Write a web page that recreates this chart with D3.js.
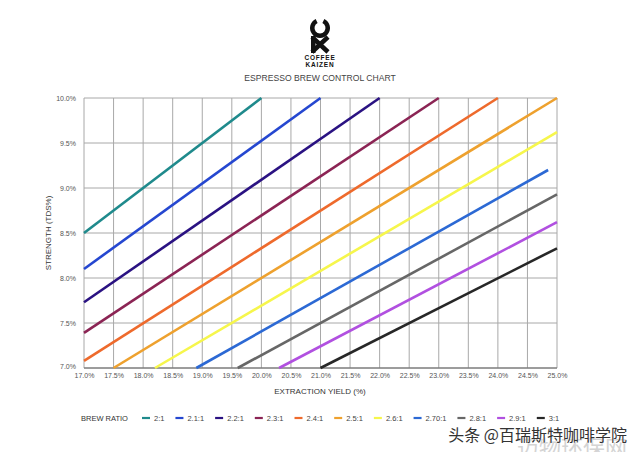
<!DOCTYPE html>
<html><head><meta charset="utf-8">
<script src="https://cdn.jsdelivr.net/npm/d3@7"></script>
<style>
html,body{margin:0;padding:0;background:#fff;}
svg{display:block;font-family:"Liberation Sans",Arial,sans-serif;}
</style></head>
<body><svg id="c" width="640" height="452"></svg>
<script>
// Data
const ratioLabels = ["2:1","2.1:1","2.2:1","2.3:1","2.4:1","2.5:1","2.6:1","2.70:1","2.8:1","2.9:1","3:1"];
const ratioColors = ["#1f8a8c","#2547d0","#2a1282","#8b2454","#ee6a2c","#eea12e","#f6f64c","#2c69d4","#676767","#b150e0","#272727"];
const startEY  = [17.0,17.0,17.0,17.0,17.0,17.5,18.2,18.9,19.6,20.3,21.0];
const startTDS = [8.50,8.10,7.73,7.39,7.08,7.00,7.00,7.00,7.00,7.00,7.00];
const endEY    = [20.0,21.0,22.0,23.0,24.0,25.0,25.0,24.85,25.0,25.0,25.0];
const endTDS   = [10.0,10.0,10.0,10.0,10.0,10.0,9.62,9.20,8.93,8.62,8.33];
const xTicks = [17.0,17.5,18.0,18.5,19.0,19.5,20.0,20.5,21.0,21.5,22.0,22.5,23.0,23.5,24.0,24.5,25.0];
const yTicks = [7.0,7.5,8.0,8.5,9.0,9.5,10.0];

const svg = d3.select("#c");
const x = d3.scaleLinear().domain([17,25]).range([84,557]);
const y = d3.scaleLinear().domain([7,10]).range([368,98]);

// grid
const g = svg.append("g");
g.selectAll("line.vx").data(xTicks).join("line")
  .attr("x1",d=>x(d)).attr("x2",d=>x(d)).attr("y1",y(7)).attr("y2",y(10))
  .attr("stroke","#a8a8a8").attr("stroke-width",1);
g.selectAll("line.hy").data(yTicks).join("line")
  .attr("x1",x(17)).attr("x2",x(25)).attr("y1",d=>y(d)).attr("y2",d=>y(d))
  .attr("stroke","#a8a8a8").attr("stroke-width",1);
g.append("line").attr("x1",x(17)).attr("x2",x(25)).attr("y1",y(7)).attr("y2",y(7)).attr("stroke","#666").attr("stroke-width",1);

// axes labels
const xAxis = d3.axisBottom(x).tickValues(xTicks).tickSize(0).tickPadding(5).tickFormat(d=>d.toFixed(1)+"%");
const xa = svg.append("g").attr("transform",`translate(0,${y(7)})`).call(xAxis);
xa.select(".domain").remove();
xa.selectAll("text").attr("fill","#555").attr("font-size",7).attr("font-family","Liberation Sans, Arial, sans-serif");
const yAxis = d3.axisLeft(y).tickValues(yTicks).tickSize(0).tickPadding(8).tickFormat(d=>d.toFixed(1)+"%");
const ya = svg.append("g").attr("transform",`translate(${x(17)},0)`).call(yAxis);
ya.select(".domain").remove();
ya.selectAll("text").attr("fill","#555").attr("font-size",7).attr("font-family","Liberation Sans, Arial, sans-serif");
ya.selectAll(".tick").filter(d=>d===7).select("text").attr("dy","0.05em");

// lines
const series = ratioLabels.map((l,i)=>({label:l,color:ratioColors[i],
  pts:[[startEY[i],startTDS[i]],[endEY[i],endTDS[i]]]}));
const line = d3.line().x(d=>x(d[0])).y(d=>y(d[1]));
svg.append("g").selectAll("path").data(series).join("path")
  .attr("d",d=>line(d.pts)).attr("stroke",d=>d.color).attr("stroke-width",2.6)
  .attr("fill","none");

// axis titles
svg.append("text").attr("x",320).attr("y",394).attr("text-anchor","middle")
  .attr("font-size",8).attr("fill","#333").text("EXTRACTION YIELD (%)");
svg.append("text").attr("transform","translate(51,233) rotate(-90)").attr("text-anchor","middle")
  .attr("font-size",8).attr("fill","#333").text("STRENGTH (TDS%)");

// title
svg.append("text").attr("x",320).attr("y",81).attr("text-anchor","middle")
  .attr("font-size",8.6).attr("fill","#444").text("ESPRESSO BREW CONTROL CHART");

// logo
const logo = svg.append("g").attr("transform","translate(320,0)");
const arc = d3.arc().innerRadius(5.5).outerRadius(10).startAngle(0.45).endAngle(2*Math.PI-0.45);
logo.append("path").attr("d",arc()).attr("transform","translate(0,28)").attr("fill","#111");
logo.append("path").attr("d","M-8,37 L8,52 M8,37 L-8,52").attr("stroke","#111").attr("stroke-width",4.5).attr("fill","none");
logo.append("rect").attr("x",-9).attr("y",36).attr("width",4.5).attr("height",17).attr("fill","#111");
logo.append("text").attr("x",0).attr("y",60).attr("text-anchor","middle").attr("font-size",6.5)
  .attr("font-weight","bold").attr("letter-spacing",0.8).attr("fill","#111").text("COFFEE");
logo.append("text").attr("x",0).attr("y",67).attr("text-anchor","middle").attr("font-size",6.5)
  .attr("font-weight","bold").attr("letter-spacing",0.8).attr("fill","#111").text("KAIZEN");

// legend
const lg = svg.append("g");
lg.append("text").attr("x",81).attr("y",421).attr("font-size",7.5).attr("fill","#333").text("BREW RATIO");
let cx = 142;
series.forEach(s=>{
  lg.append("line").attr("x1",cx).attr("x2",cx+8).attr("y1",418).attr("y2",418)
    .attr("stroke",s.color).attr("stroke-width",2.2);
  const t = lg.append("text").attr("x",cx+12).attr("y",421).attr("font-size",7.5).attr("fill","#444").text(s.label);
  cx += 12 + t.node().getComputedTextLength() + 11;
});

// watermark
svg.append("text").attr("x",627).attr("y",456).attr("text-anchor","end")
  .attr("font-family","Noto Sans CJK SC").attr("font-size",22).attr("fill","#d4d4d4").text("迈物环保网");
svg.append("text").attr("x",627).attr("y",441).attr("text-anchor","end")
  .attr("font-family","Noto Sans CJK SC").attr("font-size",16).attr("fill","#333")
  .attr("stroke","#fff").attr("stroke-width",0.6).attr("paint-order","stroke").text("头条 @百瑞斯特咖啡学院");
</script></body></html>
